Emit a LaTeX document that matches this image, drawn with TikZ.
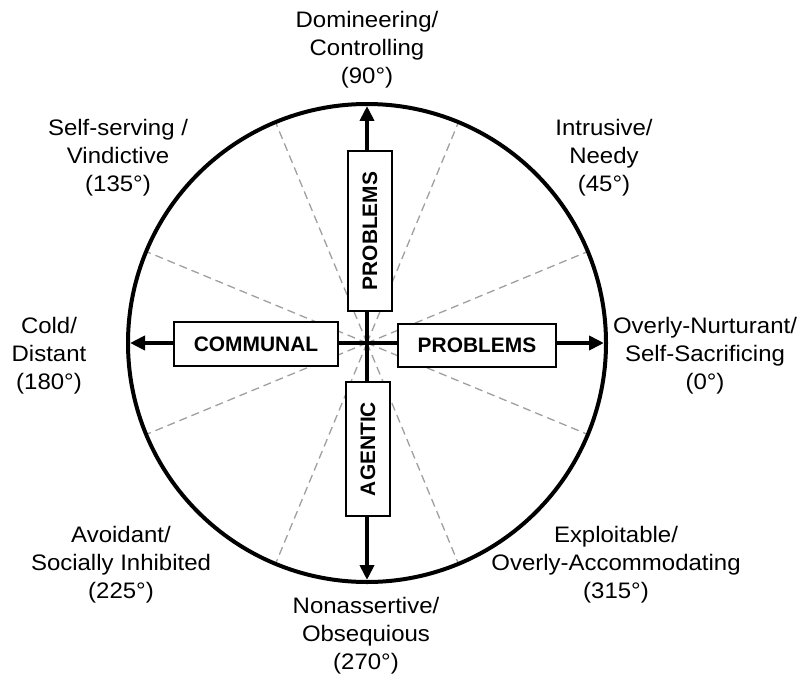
\documentclass[tikz,border=0pt]{standalone}
\usepackage{fontspec}
\setmainfont{Liberation Sans}
\newfontfamily\labfont[FakeStretch=1.07]{Liberation Sans}
\usetikzlibrary{arrows.meta}
\begin{document}
\begin{tikzpicture}[x=1bp,y=-1bp,
  lab/.style={align=center, font=\labfont\fontsize{22.5}{28}\selectfont, inner sep=0pt},
  box/.style={draw, line width=2.2bp, fill=white, font=\bfseries\fontsize{21}{24}\selectfont, inner sep=0pt},
  axis/.style={line width=4bp, -{Triangle[length=15bp,width=14bp]}},
  spoke/.style={draw=gray!75, line width=1.3bp, dash pattern=on 8bp off 5bp}]
\useasboundingbox (0,0) rectangle (803,684);
\coordinate (c) at (367,343);
% dashed spokes
\foreach \a in {22.5,67.5,...,337.5} \draw[spoke] (c) -- ++(\a:237);
% outer circle
\draw[line width=4bp] (c) circle[radius=239];
% axis arrow tips
\coordinate (tN) at (367,106);
\coordinate (tS) at (367,580);
\coordinate (tW) at (130,343);
\coordinate (tE) at (604,343);
\draw[axis] (c) -- (tN);
\draw[axis] (c) -- (tS);
\draw[axis] (c) -- (tW);
\draw[axis] (c) -- (tE);
% boxes
\node[box, minimum width=44bp, minimum height=160bp] (bN) at (370,231) {\rotatebox{90}{PROBLEMS}};
\node[box, minimum width=44bp, minimum height=134bp] (bS) at (368,449) {\rotatebox{90}{AGENTIC}};
\node[box, minimum width=164bp, minimum height=44bp] (bW) at (256,344) {COMMUNAL};
\node[box, minimum width=158bp, minimum height=43bp] (bE) at (477,345.5) {PROBLEMS};
% labels
\node[lab] (l90) at (367,50) {Domineering/\\Controlling\\(90°)};
\node[lab] (l45) at (604,158) {Intrusive/\\Needy\\(45°)};
\node[lab] (l135) at (118,158) {Self-serving /\\Vindictive\\(135°)};
\node[lab] (l180) at (49,356) {Cold/\\Distant\\(180°)};
\node[lab] (l0) at (705,356) {Overly-Nurturant/\\Self-Sacrificing\\(0°)};
\node[lab] (l225) at (121,565) {Avoidant/\\Socially Inhibited\\(225°)};
\node[lab] (l315) at (616,565) {Exploitable/\\Overly-Accommodating\\(315°)};
\node[lab] (l270) at (366,636) {Nonassertive/\\Obsequious\\(270°)};
\end{tikzpicture}
\end{document}
